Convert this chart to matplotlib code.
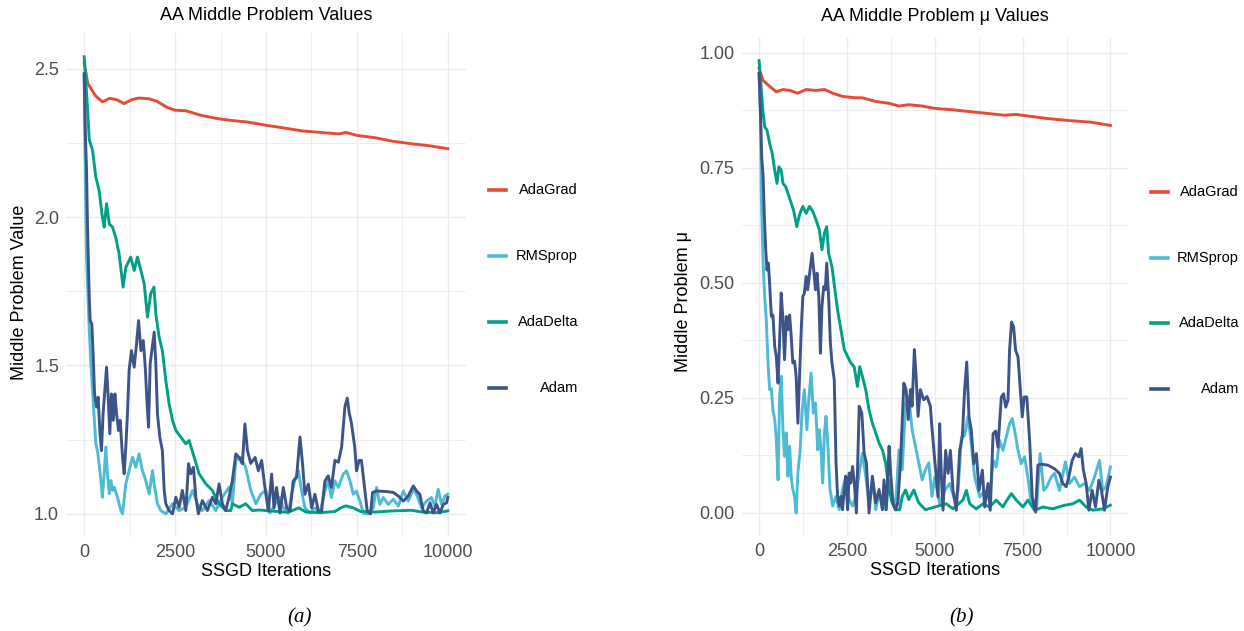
import numpy as np
import matplotlib
matplotlib.use('Agg')
import matplotlib.pyplot as plt
from matplotlib.lines import Line2D

plt.rcParams['font.family'] = ['Liberation Sans', 'DejaVu Sans']

# ---- data: (iteration, value) ----
labels = ["AdaGrad", "RMSprop", "AdaDelta", "Adam"]
colors = ["#E64B35", "#4DBBD5", "#00A087", "#3C5488"]

grad_a = [(0, 2.52), (100, 2.45), (200, 2.43), (300, 2.41), (500, 2.388), (700, 2.40), (900, 2.395),
          (1100, 2.382), (1300, 2.395), (1500, 2.401), (1800, 2.398), (2000, 2.39), (2300, 2.368),
          (2500, 2.36), (2800, 2.358), (3200, 2.343), (3600, 2.333), (4000, 2.326), (4500, 2.32),
          (5000, 2.309), (5500, 2.30), (6000, 2.29), (6500, 2.285), (7000, 2.28), (7200, 2.285),
          (7500, 2.275), (8000, 2.267), (8500, 2.255), (9000, 2.247), (9500, 2.24), (10000, 2.23)]

rms_a = [(0, 2.48), (30, 2.146), (65, 1.865), (140, 1.618), (185, 1.506), (230, 1.416), (275, 1.326),
         (320, 1.236), (365, 1.213), (410, 1.169), (460, 1.112), (500, 1.056), (550, 1.135), (595, 1.225),
         (640, 1.135), (690, 1.068), (735, 1.112), (780, 1.079), (825, 1.09), (915, 1.056), (1010, 1.011),
         (1055, 1.0), (1145, 1.101), (1235, 1.146), (1330, 1.191), (1420, 1.157), (1510, 1.202),
         (1600, 1.146), (1695, 1.112), (1785, 1.067), (1880, 1.146), (1925, 1.10), (2015, 1.034),
         (2105, 1.011), (2245, 1.0), (2430, 1.034), (2610, 1.011), (2795, 1.022), (2980, 1.079),
         (3115, 1.034), (3250, 1.011), (3435, 1.045), (3620, 1.011), (3800, 1.056), (3985, 1.09),
         (4075, 1.034), (4170, 1.18), (4305, 1.19), (4440, 1.157), (4580, 1.08), (4720, 1.034),
         (4860, 1.067), (5000, 1.079), (5110, 1.003), (5250, 1.032), (5385, 1.055), (5475, 1.02),
         (5615, 1.003), (5705, 1.066), (5800, 1.117), (5890, 1.145), (5980, 1.077), (6070, 1.02),
         (6210, 1.003), (6345, 1.02), (6485, 1.003), (6620, 1.077), (6710, 1.111), (6800, 1.055),
         (6895, 1.111), (6990, 1.089), (7125, 1.134), (7215, 1.145), (7310, 1.111), (7400, 1.066),
         (7490, 1.077), (7580, 1.043), (7675, 1.003), (7810, 1.0), (7950, 1.02), (8040, 1.089),
         (8130, 1.032), (8225, 1.055), (8360, 1.032), (8500, 1.049), (8640, 1.026), (8775, 1.077),
         (8910, 1.043), (9050, 1.083), (9140, 1.066), (9280, 1.02), (9415, 1.043), (9550, 1.055),
         (9645, 1.026), (9735, 1.083), (9830, 1.032), (9920, 1.06), (10000, 1.066)]

delta_a = [(0, 2.54), (90, 2.37), (140, 2.26), (230, 2.225), (320, 2.135), (410, 2.09), (500, 2.0),
           (550, 1.966), (615, 2.045), (690, 1.977), (780, 1.966), (870, 1.93), (960, 1.876),
           (1070, 1.764), (1145, 1.83), (1280, 1.865), (1375, 1.82), (1465, 1.865), (1560, 1.82),
           (1650, 1.775), (1740, 1.663), (1830, 1.742), (1920, 1.764), (1970, 1.674), (2060, 1.596),
           (2150, 1.55), (2245, 1.449), (2335, 1.371), (2430, 1.315), (2520, 1.281), (2660, 1.258),
           (2795, 1.236), (2885, 1.247), (3025, 1.191), (3160, 1.135), (3345, 1.101), (3525, 1.079),
           (3710, 1.034), (3890, 1.011), (4030, 1.011), (4075, 1.034), (4260, 1.022), (4440, 1.034),
           (4625, 1.011), (4810, 1.013), (5000, 1.011), (5300, 1.008), (5600, 1.005), (5900, 1.02),
           (6100, 1.006), (6500, 1.004), (6900, 1.008), (7050, 1.02), (7200, 1.027), (7400, 1.02),
           (7600, 1.008), (8000, 1.006), (8500, 1.01), (9000, 1.012), (9300, 1.006), (9700, 1.004),
           (10000, 1.01)]

adam_a = [(0, 2.483), (30, 2.29), (65, 2.157), (90, 1.977), (140, 1.73), (165, 1.651), (210, 1.64),
          (250, 1.528), (285, 1.404), (340, 1.36), (385, 1.393), (430, 1.281), (475, 1.213), (520, 1.337),
          (575, 1.427), (615, 1.494), (660, 1.393), (705, 1.27), (750, 1.404), (800, 1.315), (845, 1.404),
          (890, 1.337), (945, 1.281), (990, 1.315), (1055, 1.19), (1100, 1.135), (1145, 1.225),
          (1190, 1.337), (1235, 1.483), (1300, 1.55), (1375, 1.494), (1440, 1.573), (1495, 1.651),
          (1560, 1.55), (1625, 1.584), (1680, 1.494), (1725, 1.382), (1770, 1.292), (1815, 1.506),
          (1860, 1.55), (1925, 1.612), (1970, 1.506), (2015, 1.337), (2080, 1.258), (2150, 1.213),
          (2200, 1.079), (2245, 1.034), (2335, 1.011), (2430, 1.0), (2520, 1.056), (2610, 1.022),
          (2700, 1.079), (2795, 1.011), (2870, 1.169), (2930, 1.135), (3005, 1.157), (3070, 1.056),
          (3140, 1.0), (3250, 1.045), (3390, 1.011), (3525, 1.056), (3620, 1.034), (3710, 1.101),
          (3800, 1.034), (3890, 1.011), (3985, 1.056), (4075, 1.112), (4170, 1.202), (4260, 1.19),
          (4350, 1.169), (4420, 1.303), (4490, 1.213), (4580, 1.17), (4700, 1.19), (4790, 1.145),
          (4880, 1.18), (4970, 1.089), (5065, 1.009), (5155, 1.134), (5220, 1.02), (5290, 1.089),
          (5385, 1.003), (5475, 1.089), (5570, 1.02), (5660, 1.009), (5750, 1.111), (5840, 1.122),
          (5935, 1.259), (6005, 1.168), (6070, 1.066), (6165, 1.1), (6255, 1.02), (6345, 1.066),
          (6440, 1.009), (6530, 1.009), (6620, 1.111), (6710, 1.128), (6800, 1.089), (6895, 1.18),
          (6990, 1.174), (7080, 1.225), (7170, 1.361), (7235, 1.39), (7290, 1.339), (7350, 1.305),
          (7440, 1.225), (7490, 1.145), (7560, 1.18), (7625, 1.18), (7720, 1.077), (7785, 1.009),
          (7875, 1.0), (7930, 1.072), (8040, 1.077), (8315, 1.075), (8500, 1.072), (8640, 1.06),
          (8775, 1.043), (8910, 1.06), (9050, 1.094), (9140, 1.077), (9230, 1.066), (9325, 1.009),
          (9415, 1.003), (9510, 1.037), (9600, 1.003), (9690, 1.032), (9785, 1.003), (9875, 1.032),
          (9965, 1.037), (10000, 1.055)]

grad_b = [(0, 0.966), (110, 0.94), (255, 0.93), (490, 0.915), (680, 0.92), (870, 0.918), (1100, 0.912),
          (1340, 0.92), (1620, 0.918), (1860, 0.92), (2095, 0.912), (2375, 0.905), (2750, 0.902),
          (2940, 0.902), (3320, 0.894), (3700, 0.89), (3980, 0.884), (4260, 0.887), (4640, 0.884),
          (5000, 0.879), (5500, 0.876), (6000, 0.872), (6500, 0.868), (7000, 0.864), (7300, 0.866),
          (7500, 0.864), (8200, 0.857), (8900, 0.852), (9450, 0.849), (10000, 0.842)]

rms_b = [(0, 0.955), (40, 0.868), (65, 0.687), (115, 0.543), (160, 0.47), (205, 0.42), (255, 0.326),
         (300, 0.268), (350, 0.27), (395, 0.224), (445, 0.203), (490, 0.16), (540, 0.072), (585, 0.253),
         (630, 0.297), (680, 0.181), (725, 0.123), (775, 0.174), (820, 0.08), (870, 0.145), (915, 0.08),
         (960, 0.051), (1010, 0.036), (1055, 0.0), (1105, 0.087), (1170, 0.137), (1225, 0.224),
         (1290, 0.268), (1360, 0.181), (1415, 0.246), (1480, 0.304), (1545, 0.217), (1605, 0.239),
         (1670, 0.137), (1715, 0.181), (1765, 0.137), (1810, 0.065), (1860, 0.174), (1905, 0.21),
         (1950, 0.159), (2020, 0.051), (2095, 0.015), (2190, 0.036), (2280, 0.007), (2375, 0.051),
         (2470, 0.08), (2565, 0.029), (2660, 0.015), (2755, 0.036), (2865, 0.094), (2940, 0.13),
         (3035, 0.08), (3130, 0.022), (3245, 0.065), (3320, 0.007), (3415, 0.043), (3510, 0.022),
         (3600, 0.007), (3700, 0.072), (3790, 0.036), (3885, 0.015), (3980, 0.137), (4075, 0.094),
         (4170, 0.239), (4260, 0.253), (4355, 0.181), (4450, 0.145), (4545, 0.109), (4640, 0.072),
         (4735, 0.094), (4830, 0.109), (4920, 0.036), (5000, 0.078), (5140, 0.02), (5285, 0.049),
         (5425, 0.064), (5570, 0.028), (5665, 0.049), (5760, 0.165), (5850, 0.168), (5945, 0.209),
         (6040, 0.151), (6135, 0.078), (6280, 0.035), (6420, 0.049), (6560, 0.028), (6660, 0.114),
         (6750, 0.1), (6845, 0.158), (6940, 0.136), (7035, 0.165), (7130, 0.194), (7205, 0.205),
         (7275, 0.179), (7370, 0.136), (7460, 0.107), (7555, 0.122), (7650, 0.078), (7745, 0.02),
         (7890, 0.006), (8000, 0.129), (8100, 0.049), (8190, 0.057), (8315, 0.078), (8410, 0.086),
         (8550, 0.049), (8720, 0.111), (8835, 0.064), (8975, 0.078), (9120, 0.057), (9260, 0.064),
         (9405, 0.049), (9545, 0.078), (9690, 0.114), (9780, 0.049), (9875, 0.057), (10000, 0.1)]

delta_b = [(0, 0.983), (65, 0.919), (115, 0.868), (160, 0.839), (225, 0.832), (300, 0.803), (375, 0.781),
           (445, 0.745), (510, 0.716), (565, 0.752), (630, 0.745), (680, 0.716), (755, 0.709), (820, 0.695),
           (885, 0.68), (980, 0.658), (1075, 0.622), (1150, 0.648), (1245, 0.666), (1340, 0.651),
           (1435, 0.666), (1530, 0.655), (1620, 0.637), (1715, 0.615), (1790, 0.572), (1860, 0.608),
           (1925, 0.622), (1980, 0.564), (2075, 0.535), (2170, 0.478), (2235, 0.441), (2330, 0.398),
           (2425, 0.355), (2520, 0.34), (2610, 0.326), (2705, 0.318), (2800, 0.275), (2865, 0.318),
           (2940, 0.297), (3035, 0.268), (3130, 0.224), (3225, 0.195), (3320, 0.174), (3415, 0.152),
           (3510, 0.137), (3600, 0.109), (3700, 0.05), (3790, 0.022), (3885, 0.007), (4000, 0.007),
           (4075, 0.036), (4170, 0.05), (4260, 0.029), (4405, 0.05), (4545, 0.022), (4735, 0.007),
           (5000, 0.013), (5330, 0.02), (5520, 0.009), (5800, 0.028), (5900, 0.049), (5995, 0.02),
           (6180, 0.009), (6375, 0.02), (6560, 0.013), (6750, 0.028), (6940, 0.013), (7055, 0.028),
           (7180, 0.042), (7320, 0.028), (7510, 0.013), (7650, 0.028), (7840, 0.006), (8080, 0.013),
           (8360, 0.009), (8650, 0.016), (8930, 0.02), (9120, 0.028), (9310, 0.013), (9500, 0.006),
           (9780, 0.009), (10000, 0.017)]

adam_b = [(0, 0.955), (40, 0.868), (75, 0.774), (115, 0.731), (150, 0.644), (190, 0.572), (225, 0.528),
          (265, 0.543), (300, 0.499), (350, 0.427), (395, 0.43), (445, 0.362), (490, 0.34), (540, 0.282),
          (585, 0.376), (630, 0.478), (680, 0.42), (725, 0.333), (775, 0.427), (820, 0.398), (870, 0.43),
          (915, 0.384), (960, 0.326), (1010, 0.33), (1055, 0.297), (1105, 0.195), (1150, 0.289),
          (1200, 0.398), (1245, 0.47), (1290, 0.478), (1340, 0.514), (1385, 0.485), (1450, 0.528),
          (1510, 0.564), (1555, 0.528), (1605, 0.485), (1650, 0.521), (1700, 0.47), (1745, 0.347),
          (1790, 0.449), (1840, 0.492), (1885, 0.485), (1925, 0.543), (1980, 0.47), (2030, 0.369),
          (2075, 0.326), (2140, 0.289), (2190, 0.109), (2235, 0.036), (2280, 0.015), (2330, 0.036),
          (2375, 0.007), (2425, 0.051), (2470, 0.08), (2520, 0.007), (2565, 0.087), (2610, 0.065),
          (2660, 0.101), (2705, 0.072), (2770, 0.0), (2850, 0.232), (2925, 0.217), (2990, 0.13),
          (3055, 0.109), (3130, 0.0), (3225, 0.08), (3320, 0.022), (3415, 0.051), (3510, 0.007),
          (3555, 0.072), (3620, 0.007), (3700, 0.145), (3745, 0.087), (3810, 0.022), (3885, 0.007),
          (3950, 0.022), (4025, 0.109), (4120, 0.282), (4185, 0.268), (4245, 0.203), (4310, 0.268),
          (4355, 0.232), (4420, 0.355), (4470, 0.297), (4525, 0.21), (4590, 0.268), (4685, 0.246),
          (4780, 0.253), (4875, 0.232), (4905, 0.2), (5000, 0.114), (5095, 0.035), (5140, 0.194),
          (5190, 0.078), (5235, 0.006), (5310, 0.136), (5380, 0.086), (5445, 0.136), (5520, 0.049),
          (5615, 0.006), (5710, 0.136), (5785, 0.165), (5850, 0.267), (5910, 0.328), (5975, 0.209),
          (6040, 0.18), (6110, 0.107), (6185, 0.129), (6260, 0.049), (6355, 0.093), (6420, 0.013),
          (6515, 0.064), (6580, 0.006), (6660, 0.172), (6735, 0.178), (6800, 0.143), (6895, 0.252),
          (6960, 0.259), (7020, 0.23), (7085, 0.245), (7130, 0.354), (7185, 0.415), (7245, 0.404),
          (7300, 0.354), (7370, 0.339), (7435, 0.267), (7490, 0.209), (7545, 0.252), (7620, 0.252),
          (7700, 0.158), (7775, 0.035), (7870, 0.002), (7935, 0.104), (8030, 0.106), (8220, 0.104),
          (8410, 0.096), (8550, 0.086), (8645, 0.064), (8740, 0.057), (8815, 0.078), (8910, 0.114),
          (9005, 0.129), (9100, 0.122), (9165, 0.14), (9230, 0.093), (9310, 0.064), (9385, 0.006),
          (9480, 0.049), (9575, 0.013), (9670, 0.071), (9745, 0.049), (9830, 0.006), (9925, 0.057),
          (10000, 0.078)]

x_ticks = [0, 2500, 5000, 7500, 10000]
x_minor = [1250, 3750, 6250, 8750]
ya_ticks = [1.0, 1.5, 2.0, 2.5]
ya_minor = [1.25, 1.75, 2.25]
yb_ticks = [0.0, 0.25, 0.5, 0.75, 1.0]
yb_minor = [0.125, 0.375, 0.625, 0.875]

W, H = 1244, 631
fig = plt.figure(figsize=(W / 100, H / 100), dpi=100)

def px_axes(x0, y0, x1, y1):
    return fig.add_axes([x0 / W, 1 - y1 / H, (x1 - x0) / W, (y1 - y0) / H])

ax_a = px_axes(66, 33, 466, 537)
ax_b = px_axes(741.5, 37.5, 1128, 536)

def style(ax, yt, ym, fmt):
    ax.set_xlim(-500, 10500)
    ax.set_xticks(x_ticks)
    ax.set_xticks(x_minor, minor=True)
    ax.set_yticks(yt)
    ax.set_yticks(ym, minor=True)
    ax.set_yticklabels([fmt.format(v) for v in yt])
    ax.grid(which='major', color='#ebebeb', lw=1.0)
    ax.grid(which='minor', color='#ebebeb', lw=0.6)
    ax.set_axisbelow(True)
    for s in ax.spines.values():
        s.set_visible(False)
    ax.tick_params(which='both', length=0, labelsize=13, labelcolor='#4d4d4d', pad=5)

panels = [
    (ax_a, [grad_a, rms_a, delta_a, adam_a], (0.922, 2.62), ya_ticks, ya_minor, "{:.1f}",
     "AA Middle Problem Values", "Middle Problem Value", (-0.115, 0.486), 1.034),
    (ax_b, [grad_b, rms_b, delta_b, adam_b], (-0.05, 1.033), yb_ticks, yb_minor, "{:.2f}",
     "AA Middle Problem \u03bc Values", "Middle Problem \u03bc", (-0.151, 0.471), 1.043),
]

for ax, series, ylim, yt, ym, fmt, title, ylab, ylpos, tty in panels:
    style(ax, yt, ym, fmt)
    for pts, c in zip(series, colors):
        it, val = zip(*pts)
        ax.plot(it, val, color=c, lw=2.1, solid_joinstyle='round')
    ax.set_ylim(*ylim)
    ax.text(0.5, tty, title, transform=ax.transAxes, ha='center', va='center', fontsize=13)
    ax.set_xlabel("SSGD Iterations", fontsize=13)
    ax.xaxis.set_label_coords(0.5, -0.069)
    ax.xaxis.label.set_va('center')
    ax.set_ylabel(ylab, fontsize=13)
    ax.yaxis.set_label_coords(*ylpos)
    ax.yaxis.label.set_va('center')

# legends (drawn in figure pixels)
legend_pos = [(489, 506, 578, [190, 256, 322, 388]),
              (1151, 1168, 1239, [192, 258, 323, 389])]
for kx0, kx1, tx, rows in legend_pos:
    for lab, c, yy in zip(labels, colors, rows):
        fig.add_artist(Line2D([kx0 / W, kx1 / W], [1 - yy / H, 1 - yy / H], color=c, lw=2.6,
                              transform=fig.transFigure))
        fig.text(tx / W, 1 - yy / H, lab, ha='right', va='center', fontsize=10.5)

fig.text(300 / W, 1 - 618 / H, "(a)", ha='center', va='center', fontsize=15,
         family='Liberation Serif', style='italic')
fig.text(962 / W, 1 - 618 / H, "(b)", ha='center', va='center', fontsize=15,
         family='Liberation Serif', style='italic')

fig.savefig("out.png", dpi=100)
